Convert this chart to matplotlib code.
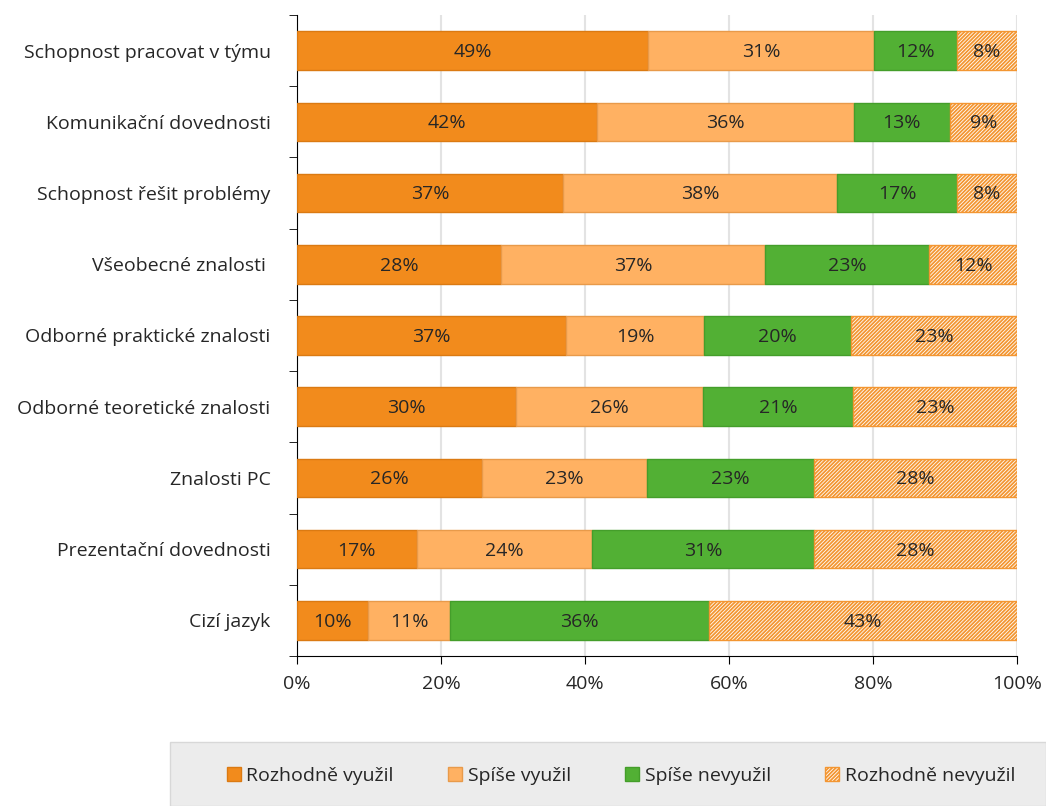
import matplotlib.pyplot as plt
from matplotlib.patches import Rectangle
import numpy as np

plt.rcParams['font.family'] = ['Open Sans', 'DejaVu Sans']
plt.rcParams['hatch.linewidth'] = 1.3

categories = ['Schopnost pracovat v týmu', 'Komunikační dovednosti', 'Schopnost řešit problémy',
              'Všeobecné znalosti ', 'Odborné praktické znalosti', 'Odborné teoretické znalosti',
              'Znalosti PC', 'Prezentační dovednosti', 'Cizí jazyk']
series = ['Rozhodně využil', 'Spíše využil', 'Spíše nevyužil', 'Rozhodně nevyužil']
rozhodne_vyuzil = [48.8, 41.7, 36.9, 28.3, 37.4, 30.4, 25.7, 16.6, 9.9]
spise_vyuzil = [31.4, 35.6, 38.1, 36.7, 19.1, 26.0, 22.9, 24.4, 11.3]
spise_nevyuzil = [11.5, 13.4, 16.7, 22.8, 20.4, 20.8, 23.2, 30.8, 36.0]
rozhodne_nevyuzil = [8.3, 9.3, 8.3, 12.2, 23.1, 22.8, 28.2, 28.2, 42.8]

colors = ['#F28B1C', '#FFB162', '#52B034', 'white']
edges = ['#DB7A12', '#E89A4A', '#449E2A', '#F39632']
hatches = [None, None, None, '/' * 9]

fig = plt.figure(figsize=(10.46, 8.06), dpi=100)
ax = fig.add_axes([297 / 1046, 1 - 656 / 806, 720 / 1046, 641 / 806])

y = np.arange(len(categories))
left = np.zeros(len(categories))
handles = []
for vals, name, c, e, h in zip([rozhodne_vyuzil, spise_vyuzil, spise_nevyuzil, rozhodne_nevyuzil],
                               series, colors, edges, hatches):
    vals = np.array(vals)
    bars = ax.barh(y, vals, left=left, height=0.54, color=c, edgecolor=e, linewidth=1,
                   hatch=h, label=name, zorder=3)
    handles.append(bars)
    for yi, l, v in zip(y, left, vals):
        ax.text(l + v / 2, yi + 0.02, f'{v:.0f}%', ha='center', va='center', fontsize=14,
                color='#262626', zorder=4)
    left += vals

ax.set_ylim(len(categories) - 0.5, -0.5)
ax.set_xlim(0, 100)
ax.set_yticks(y)
ax.set_yticklabels(categories, fontsize=14, color='#262626')
ax.set_yticks(np.arange(-0.5, len(categories)), minor=True)
ax.tick_params(axis='y', which='major', length=0, pad=19)
ax.tick_params(axis='y', which='minor', length=6, direction='out')
ax.set_xticks(np.arange(0, 101, 20))
ax.set_xticklabels([f'{t}%' for t in range(0, 101, 20)], fontsize=14, color='#262626')
ax.tick_params(axis='x', length=6, direction='out', pad=8)
ax.grid(axis='x', color='#E3E3E3', linewidth=1.5, zorder=0)
ax.spines['top'].set_visible(False)
ax.spines['right'].set_visible(False)
ax.spines['left'].set_color('black')
ax.spines['bottom'].set_color('black')

fig.patches.append(Rectangle((170 / 1046, 0), 876 / 1046, 64 / 806, transform=fig.transFigure,
                             facecolor='#ECECEC', edgecolor='#D8D8D8', linewidth=1))
fig.legend(handles=handles, loc='center', bbox_to_anchor=(621 / 1046, 1 - 776 / 806), ncol=4,
           frameon=False, fontsize=14, handlelength=0.7, handleheight=0.7, handletextpad=0.3,
           columnspacing=2.8, labelcolor='#262626')

fig.savefig('out.png', dpi=100)
